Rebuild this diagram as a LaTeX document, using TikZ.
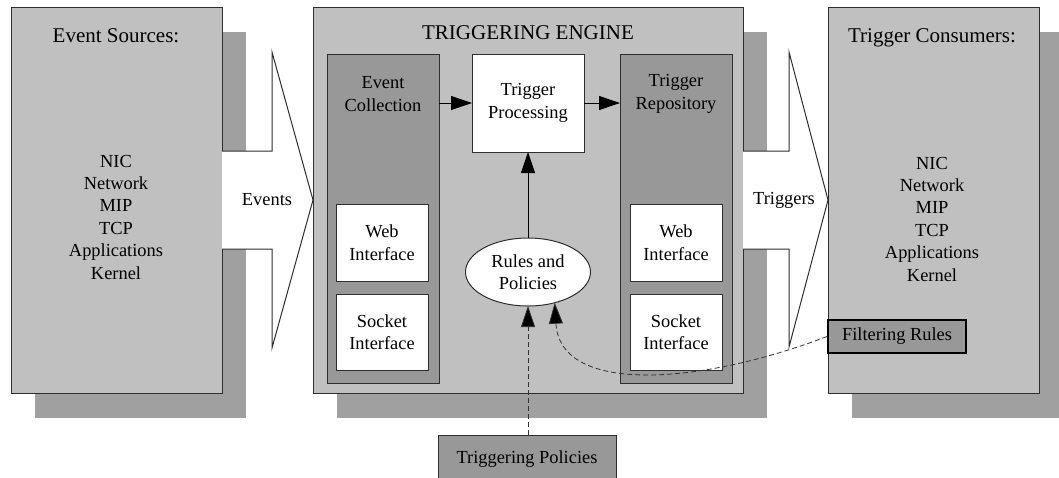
\documentclass[tikz,border=0pt]{standalone}
\usepackage{fontspec}
\setmainfont{Liberation Serif}
\usetikzlibrary{arrows.meta,shapes.geometric,shadows}
\definecolor{lgray}{HTML}{C0C0C0}
\definecolor{sgray}{HTML}{A0A0A0}
\definecolor{dgray}{HTML}{989898}
\definecolor{edge}{HTML}{2E2E2E}
\newcommand\txtsz{\fontsize{18.4}{22.4}\selectfont}
\newcommand\ttlsz{\fontsize{21}{25}\selectfont}
\begin{document}
\begin{tikzpicture}[x=1pt,y=-1pt,
  bigbox/.style={draw=edge, line width=1pt, fill=lgray, inner sep=0pt, outer sep=0pt,
    general shadow={fill=sgray, shadow xshift=23.5pt, shadow yshift=-24.5pt}},
  column/.style={draw=edge, line width=1pt, fill=dgray, inner sep=0pt, outer sep=0pt},
  whitebox/.style={draw=edge, line width=1pt, fill=white, inner sep=0pt, outer sep=0pt,
    font=\txtsz, align=center},
  label/.style={font=\txtsz, align=center, inner sep=0pt},
  title/.style={font=\ttlsz, align=center, inner sep=0pt},
  blockarrow/.style={draw=edge, line width=1pt, fill=white},
  solidarrow/.style={draw=black, line width=0.9pt, -{Triangle[length=21pt,width=14pt]}},
  dasharrow/.style={draw=black!80, line width=0.8pt, dash pattern=on 5pt off 3pt,
    -{Triangle[length=21pt,width=14pt,fill=black]}}
]
\useasboundingbox (0,0) rectangle (1059,477);
\fill[white] (0,0) rectangle (1059,477);

% big boxes
\node[bigbox, minimum width=211pt, minimum height=386pt] (src) at (116.5,200) {};
\node[bigbox, minimum width=430pt, minimum height=386pt] (eng) at (528,200) {};
\node[bigbox, minimum width=211pt, minimum height=386pt] (con) at (933.5,200) {};

% block arrows
\filldraw[blockarrow] ([yshift=49pt]src.east) -- ++(50,0) -- ++(0,-99) -- (eng.west)
  -- ++(-41,148) -- ++(0,-99) -- ([yshift=-49pt]src.east);
\filldraw[blockarrow] ([yshift=49pt]eng.east) -- ++(46,0) -- ++(0,-99) -- (con.west)
  -- ++(-39,147) -- ++(0,-98) -- ([yshift=-49pt]eng.east);
\node[label] (events) at (267,200) {Events};
\node[label] (triggers) at (784,200) {Triggers};

% left box text
\node[title] (srct) at (116,36) {Event Sources:};
\node[label] (srcl) at (116,217) {NIC\\Network\\MIP\\TCP\\Applications\\Kernel};

% right box text
\node[title] (cont) at (932,38) {Trigger Consumers:};
\node[label] (conl) at (932,219) {NIC\\Network\\MIP\\TCP\\Applications\\Kernel};
\node[draw=black, line width=2pt, fill=dgray, inner sep=0pt, minimum width=138pt,
  minimum height=33pt, font=\txtsz] (filt) at (897,336.5) {Filtering Rules};

% engine
\node[title] (engt) at (528,33) {TRIGGERING ENGINE};
\node[column, minimum width=112pt, minimum height=329pt] (ec) at (383,218.5) {};
\node[column, minimum width=112pt, minimum height=329pt] (tr) at (676,218.5) {};
\node[label] (ect) at (383,94) {Event\\Collection};
\node[label] (trt) at (676,94) {Trigger\\Repository};
\node[whitebox, minimum width=112pt, minimum height=98pt] (tp) at (528,103) {Trigger\\Processing};
\node[whitebox, minimum width=92pt, minimum height=77pt] (webl) at (382,242.5) {Web\\Interface};
\node[whitebox, minimum width=92pt, minimum height=76pt] (sockl) at (382,332) {Socket\\Interface};
\node[whitebox, minimum width=92pt, minimum height=77pt] (webr) at (676,242.5) {Web\\Interface};
\node[whitebox, minimum width=92pt, minimum height=76pt] (sockr) at (676,332) {Socket\\Interface};
\node[whitebox, ellipse, minimum width=125pt, minimum height=68pt] (rules) at (528,272) {Rules and\\Policies};

% triggering policies (bottom edge falls outside the picture)
\node[draw=edge, line width=1pt, fill=dgray, inner xsep=0pt, inner ysep=0pt,
  minimum width=178pt, text height=28pt, text depth=26pt, anchor=north,
  font=\txtsz] (pol) at (527,435) {Triggering Policies};

% connectors
\draw[solidarrow] (ec.east |- tp.west) -- (tp.west);
\draw[solidarrow] (tp.east) -- (tr.west |- tp.east);
\draw[solidarrow] (rules.north) -- (tp.south);
\draw[dasharrow] (pol.north -| rules.south) -- (rules.south);
\draw[dasharrow] (filt.west) .. controls (700,385) and (560,395) .. (rules.-49);
\end{tikzpicture}
\end{document}
